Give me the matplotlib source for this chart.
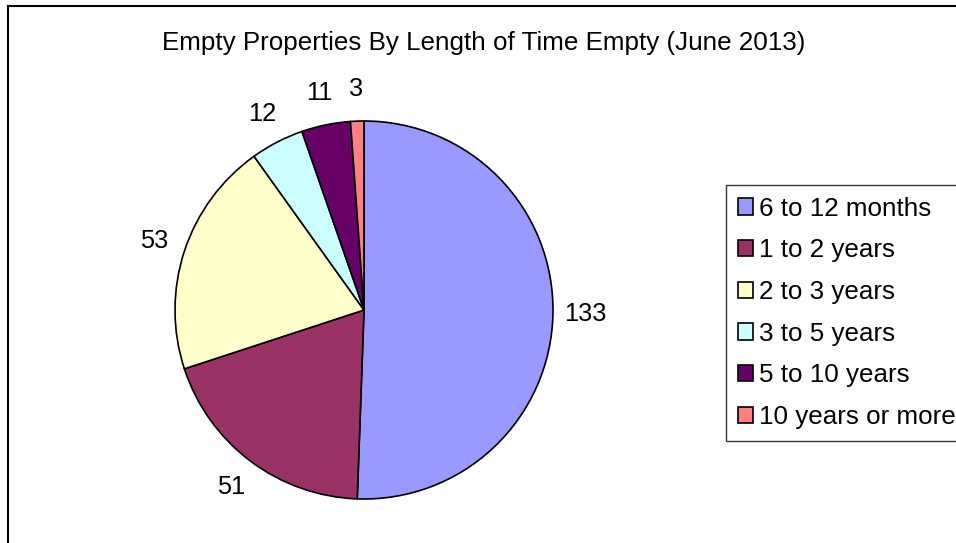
import matplotlib.pyplot as plt
from matplotlib.patches import Rectangle

plt.rcParams['font.family'] = ['Liberation Sans', 'DejaVu Sans']

title = 'Empty Properties By Length of Time Empty (June 2013)'
categories = ['6 to 12 months', '1 to 2 years', '2 to 3 years',
              '3 to 5 years', '5 to 10 years', '10 years or more']
counts = [133, 51, 53, 12, 11, 3]
colors = ['#9999FF', '#993366', '#FFFFCC', '#CCFFFF', '#660066', '#FF8080']

W, H = 956, 543
fig = plt.figure(figsize=(W / 100, H / 100), dpi=100)

# chart area border, runs off the right and bottom edges like the original
fig.patches.append(Rectangle((8 / W, -0.1), 1.2, 1 - 6.5 / H + 0.1,
                             transform=fig.transFigure, fill=False,
                             edgecolor='black', linewidth=1.5))

fig.text(483.5 / W, 1 - 43 / H, title, ha='center', va='center', fontsize=18.7)

cx, cy, r = 364, 310, 189
ax = fig.add_axes([(cx - r) / W, 1 - (cy + r) / H, 2 * r / W, 2 * r / H])
wedges, texts = ax.pie(counts, labels=[str(c) for c in counts], colors=colors,
                       startangle=90, counterclock=False, labeldistance=1.17,
                       wedgeprops=dict(edgecolor='black', linewidth=1.2),
                       textprops=dict(fontsize=18.3))
for t in texts:
    t.set_ha('center')
    t.set_va('center')
for w in wedges:
    w.set_clip_on(False)
ax.set_xlim(-1, 1)
ax.set_ylim(-1, 1)

leg = fig.legend(wedges, categories, loc='upper left',
                 bbox_to_anchor=(726 / W, 1 - 185 / H), fontsize=18.7,
                 frameon=True, fancybox=False, edgecolor='black',
                 handlelength=0.58, handleheight=0.58, handletextpad=0.24,
                 labelspacing=0.68, borderpad=0.45, borderaxespad=0)
leg.get_frame().set_linewidth(1.0)

fig.savefig('out.png', dpi=100)
